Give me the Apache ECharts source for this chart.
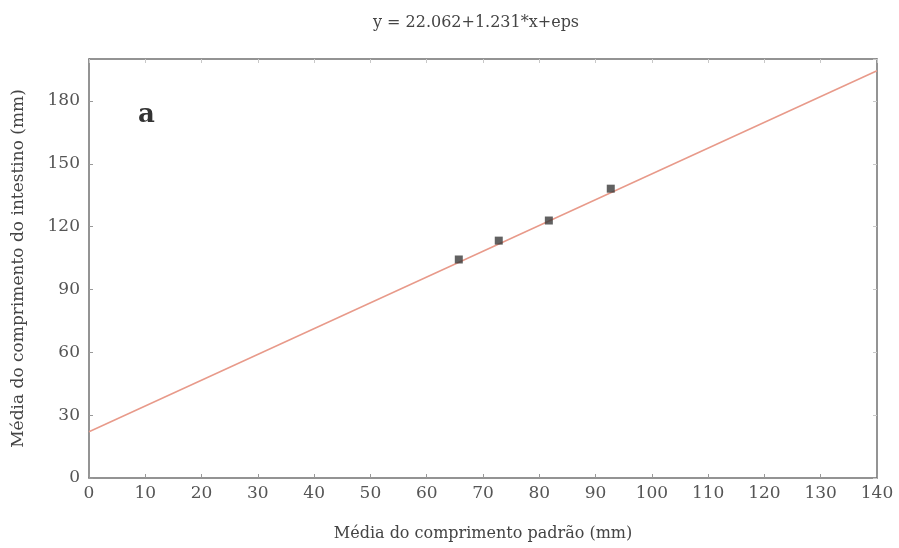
<!DOCTYPE html>
<html><head><meta charset="utf-8">
<script src="https://cdn.jsdelivr.net/npm/echarts@6/dist/echarts.min.js"></script>
<style>html,body{margin:0;padding:0;background:#fff}#c{width:899px;height:548px}</style>
</head><body><div id="c"></div>
<script>
const titleText = "y = 22.062+1.231*x+eps";
const xName = "Média do comprimento padrão (mm)";
const yName = "Média do comprimento do intestino (mm)";
const panelLabel = "a";
const pointsX = [65.7, 72.8, 81.7, 92.7];
const pointsY = [104.3, 113.3, 122.9, 138.1];
const lineX = [0, 140];
const lineY = [22.06, 194.40];
const xMin = 0, xMax = 140, xStep = 10;
const yMin = 0, yMax = 200, yStep = 30;

const font = "'DejaVu Serif', 'Liberation Serif', serif";
const chart = echarts.init(document.getElementById('c'));
const axisLine = {show: true, onZero: false, lineStyle: {color: '#707070', width: 1.5}};
chart.setOption({
  animation: false,
  title: {text: titleText, left: 471, top: 10, textAlign: 'center',
    textStyle: {fontFamily: font, fontSize: 16, fontWeight: 'normal', color: '#444'}},
  grid: {left: 89, right: 22, top: 59, bottom: 70},
  graphic: [{type: 'text', left: 138, top: 102,
    style: {text: panelLabel, font: 'bold 26px ' + font, fill: '#333'}}],
  xAxis: [{
    type: 'value', min: xMin, max: xMax, interval: xStep,
    name: xName, nameLocation: 'middle', nameGap: 48,
    nameTextStyle: {fontFamily: font, fontSize: 16, color: '#444'},
    axisLine: axisLine, splitLine: {show: false},
    axisTick: {show: true, inside: true, length: 4, lineStyle: {color: '#999'}},
    axisLabel: {fontFamily: font, fontSize: 17, color: '#555', margin: 7}
  }, {
    type: 'value', position: 'top', min: xMin, max: xMax, interval: xStep,
    axisLine: axisLine, splitLine: {show: false},
    axisTick: {show: true, inside: true, length: 4, lineStyle: {color: '#c8c8c8'}},
    axisLabel: {show: false}
  }],
  yAxis: [{
    type: 'value', min: yMin, max: yMax, interval: yStep,
    name: yName, nameLocation: 'middle', nameGap: 62, nameRotate: 90,
    nameTextStyle: {fontFamily: font, fontSize: 17, color: '#444'},
    axisLine: axisLine, splitLine: {show: false},
    axisTick: {show: true, inside: true, length: 4, lineStyle: {color: '#999'}},
    axisLabel: {fontFamily: font, fontSize: 17, color: '#555', margin: 9, showMaxLabel: false,
      formatter: v => (v % yStep === 0 ? String(v) : '')}
  }, {
    type: 'value', position: 'right', min: yMin, max: yMax, interval: yStep,
    axisLine: axisLine, splitLine: {show: false},
    axisTick: {show: true, inside: true, length: 4, lineStyle: {color: '#c8c8c8'}},
    axisLabel: {show: false}
  }],
  series: [{
    type: 'line', data: lineX.map((x, i) => [x, lineY[i]]),
    showSymbol: false, lineStyle: {color: '#e89a8a', width: 1.5}, z: 2
  }, {
    type: 'scatter', data: pointsX.map((x, i) => [x, pointsY[i]]),
    symbol: 'rect', symbolSize: 8, itemStyle: {color: '#3a3a3a'}, z: 3
  }]
});
</script></body></html>
